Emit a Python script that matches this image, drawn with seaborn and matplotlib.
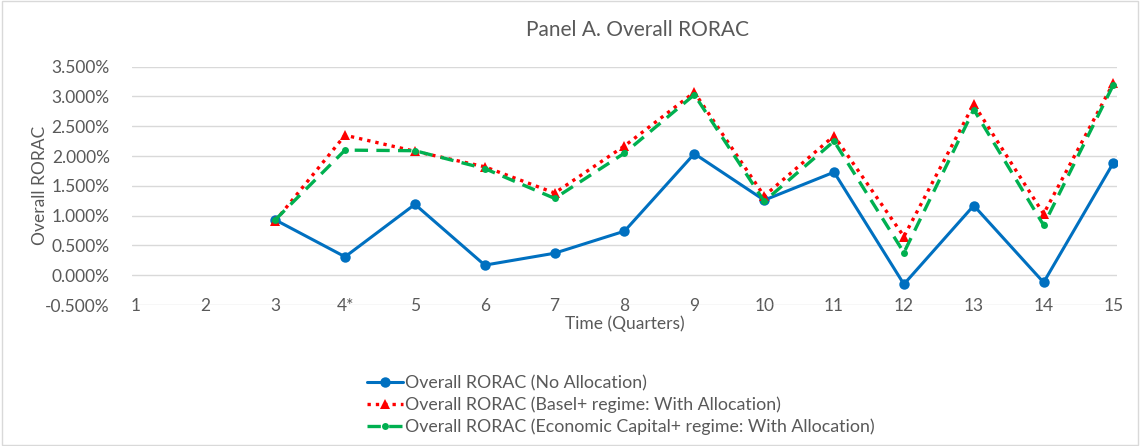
import numpy as np
import pandas as pd
import matplotlib
matplotlib.use("Agg")
import matplotlib.pyplot as plt
import seaborn as sns

# Data (values in %)
quarters = [1, 2, 3, 4, 5, 6, 7, 8, 9, 10, 11, 12, 13, 14, 15]
tick_labels = ["1", "2", "3", "4*", "5", "6", "7", "8", "9", "10", "11", "12", "13", "14", "15"]
data_quarters = [3, 4, 5, 6, 7, 8, 9, 10, 11, 12, 13, 14, 15]
no_alloc = [0.93, 0.31, 1.19, 0.17, 0.37, 0.74, 2.04, 1.26, 1.73, -0.15, 1.17, -0.12, 1.89]
basel = [0.91, 2.35, 2.08, 1.82, 1.38, 2.17, 3.07, 1.33, 2.34, 0.65, 2.87, 1.03, 3.23]
econ_cap = [0.93, 2.10, 2.09, 1.79, 1.29, 2.05, 3.03, 1.24, 2.25, 0.38, 2.78, 0.84, 3.20]

labels = ["Overall RORAC (No Allocation)",
          "Overall RORAC (Basel+ regime: With Allocation)",
          "Overall RORAC (Economic Capital+ regime: With Allocation)"]

sns.set_style("white")
plt.rcParams['font.family'] = ['Lato', 'DejaVu Sans']
grey = "#595959"

fig = plt.figure(figsize=(11.4, 4.46), dpi=100)
ax = fig.add_axes([0.1158, 0.316, 0.864, 0.5345])

# three series
sns.lineplot(x=data_quarters, y=no_alloc, ax=ax, color="#0070C0", lw=2.2,
             marker="o", markersize=7.5, markeredgewidth=0, label=labels[0])
sns.lineplot(x=data_quarters, y=basel, ax=ax, color="#FF0000", lw=2.4,
             linestyle=(0, (1, 1.5)), marker="^", markersize=7, markeredgewidth=0,
             label=labels[1])
sns.lineplot(x=data_quarters, y=econ_cap, ax=ax, color="#00B050", lw=2.4,
             linestyle=(0, (4, 2.5)), marker="o", markersize=5, markeredgewidth=0,
             label=labels[2])

ax.set_xlim(0.95, 15.05)
ax.set_ylim(-0.5, 3.5)
ax.set_yticks(np.arange(-0.5, 3.51, 0.5))
ax.set_yticklabels([f"{v:.3f}%" for v in np.arange(-0.5, 3.51, 0.5)])
ax.set_xticks(quarters)
ax.set_xticklabels(tick_labels)
ax.yaxis.grid(True, color="#D9D9D9", lw=1)
ax.xaxis.grid(False)
for s in ax.spines.values():
    s.set_visible(False)
ax.tick_params(axis="both", length=0, labelsize=12.5, colors=grey)
ax.tick_params(axis="x", pad=-5)
ax.tick_params(axis="y", pad=16)

ax.set_title("Panel A. Overall RORAC", fontsize=15, color=grey, pad=22, x=0.513)
ax.set_xlabel("Time (Quarters)", fontsize=12.5, color=grey, labelpad=1)
ax.set_ylabel("Overall RORAC", fontsize=12.5, color=grey, labelpad=-2)

leg = ax.legend(loc="upper left", bbox_to_anchor=(0.316, 0.175), bbox_transform=fig.transFigure,
                frameon=False, fontsize=12.8, handlelength=2.0, handletextpad=0.1,
                labelspacing=0.3, borderaxespad=0)
for t in leg.get_texts():
    t.set_color(grey)

# light chart border like the original
fig.patches.append(plt.Rectangle((0.002, 0.003), 0.996, 0.994, transform=fig.transFigure,
                                 fill=False, edgecolor="#D9D9D9", lw=1))

fig.savefig("out.png", dpi=100)
